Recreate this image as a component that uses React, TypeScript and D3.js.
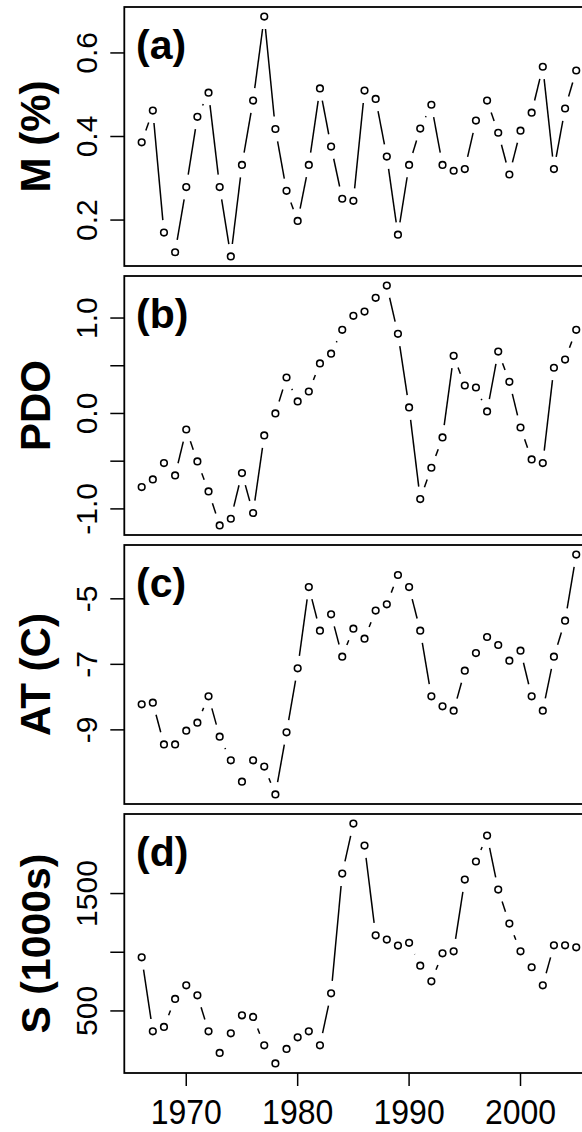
import React from "react";
import * as d3 from "d3";

// ---- data ----
const years: number[] = d3.range(1966, 2006);

const mValues: number[] = [
  0.386, 0.462, 0.170, 0.123, 0.279, 0.447, 0.505, 0.279, 0.113, 0.332,
  0.486, 0.687, 0.418, 0.270, 0.198, 0.332, 0.515, 0.376, 0.251, 0.246,
  0.510, 0.490, 0.352, 0.165, 0.332, 0.419, 0.476, 0.332, 0.318, 0.322,
  0.438, 0.486, 0.409, 0.309, 0.414, 0.457, 0.567, 0.322, 0.467, 0.558,
];

const pdoValues: number[] = [
  -0.771, -0.691, -0.520, -0.649, -0.168, -0.503, -0.817, -1.173, -1.103, -0.625,
  -1.043, -0.230, 0.0, 0.377, 0.126, 0.230, 0.524, 0.627, 0.876, 1.023,
  1.068, 1.212, 1.340, 0.835, 0.063, -0.897, -0.569, -0.251, 0.604, 0.293,
  0.272, 0.021, 0.649, 0.332, -0.147, -0.482, -0.520, 0.479, 0.565, 0.876,
];

const atValues: number[] = [
  -8.221, -8.170, -9.443, -9.443, -9.025, -8.780, -7.977, -9.208, -9.931, -10.58,
  -9.931, -10.12, -10.97, -9.076, -7.122, -4.640, -5.971, -5.473, -6.765, -5.910,
  -6.215, -5.360, -5.168, -4.273, -4.640, -5.971, -7.977, -8.282, -8.415, -7.193,
  -6.656, -6.166, -6.410, -6.888, -6.582, -7.977, -8.415, -6.765, -5.666, -3.650,
];

const sValues: number[] = [
  957, 326, 364, 602, 718, 633, 326, 142, 309, 463,
  449, 207, 53, 176, 275, 326, 207, 650, 1670, 2096,
  1909, 1144, 1108, 1057, 1080, 886, 752, 991, 1008, 1619,
  1773, 1994, 1534, 1244, 1008, 872, 718, 1059, 1059, 1042,
];

const xTicks: number[] = [1970, 1980, 1990, 2000];

const mTicks: number[] = [0.2, 0.4, 0.6];
const mTickLabels: string[] = ["0.2", "0.4", "0.6"];
const pdoTicks: number[] = [-1, -0.5, 0, 0.5, 1];
const pdoTickLabels: string[] = ["-1.0", "", "0.0", "", "1.0"];
const atTicks: number[] = [-9, -7, -5];
const atTickLabels: string[] = ["-9", "-7", "-5"];
const sTicks: number[] = [500, 1000, 1500];
const sTickLabels: string[] = ["500", "", "1500"];

const panelTitles: string[] = ["M (%)", "PDO", "AT (C)", "S (1000s)"];
const panelLetters: string[] = ["(a)", "(b)", "(c)", "(d)"];

// ---- layout ----
const W = 582;
const H = 1132;
const LEFT = 124.3;
const RIGHT = 593.6;
const TOP0 = 7;
const STEP = 269;
const PH = 259;
const GAP = 12.5;
const FONT = "'Liberation Sans', Arial, Helvetica, sans-serif";

function padExtent(vals: number[]): [number, number] {
  const [a, b] = d3.extent(vals) as [number, number];
  const p = (b - a) * 0.04;
  return [a - p, b + p];
}

function gappedSegments(pts: [number, number][], gap: number) {
  const segs: [number, number, number, number][] = [];
  for (let i = 1; i < pts.length; i++) {
    const [x0, y0] = pts[i - 1];
    const [x1, y1] = pts[i];
    const f = Math.hypot(x1 - x0, y1 - y0);
    if (f > 2 * gap) {
      const dx = (gap * (x1 - x0)) / f;
      const dy = (gap * (y1 - y0)) / f;
      segs.push([x0 + dx, y0 + dy, x1 - dx, y1 - dy]);
    }
  }
  return segs;
}

export default function App() {
  const x = d3.scaleLinear().domain(padExtent(years)).range([LEFT, RIGHT]);

  const panels = [
    { values: mValues, ticks: mTicks, labels: mTickLabels },
    { values: pdoValues, ticks: pdoTicks, labels: pdoTickLabels },
    { values: atValues, ticks: atTicks, labels: atTickLabels },
    { values: sValues, ticks: sTicks, labels: sTickLabels },
  ];

  const lastBottom = TOP0 + 3 * STEP + PH;

  return (
    <svg
      width={W}
      height={H}
      style={{ position: "absolute", left: 0, top: 0, display: "block", background: "#fff" }}
      fontFamily={FONT}
    >
      <rect x={0} y={0} width={W} height={H} fill="#fff" />
      {panels.map((p, i) => {
        const top = TOP0 + i * STEP;
        const bottom = top + PH;
        const y = d3.scaleLinear().domain(padExtent(p.values)).range([bottom, top]);
        const pts: [number, number][] = years.map((yr, k) => [x(yr), y(p.values[k])]);
        const segs = gappedSegments(pts, GAP);
        return (
          <g key={i}>
            {segs.map((s, k) => (
              <line key={k} x1={s[0]} y1={s[1]} x2={s[2]} y2={s[3]} stroke="#000" strokeWidth={1.5} />
            ))}
            {pts.map((pt, k) => (
              <circle key={k} cx={pt[0]} cy={pt[1]} r={3.3} fill="none" stroke="#000" strokeWidth={1.6} />
            ))}
            <rect x={LEFT} y={top} width={RIGHT - LEFT} height={PH} fill="none" stroke="#000" strokeWidth={1.8} />
            {p.ticks.map((t, k) => (
              <g key={k}>
                <line x1={LEFT - 14} x2={LEFT} y1={y(t)} y2={y(t)} stroke="#000" strokeWidth={1.5} />
                {p.labels[k] ? (
                  <text
                    transform={`translate(97,${y(t)}) rotate(-90)`}
                    textAnchor="middle"
                    fontSize={30}
                    fill="#000"
                  >
                    {p.labels[k]}
                  </text>
                ) : null}
              </g>
            ))}
            <text
              transform={`translate(50,${(top + bottom) / 2}) rotate(-90)`}
              textAnchor="middle"
              fontSize={i === 3 ? 41 : 42}
              fontWeight="bold"
              fill="#000"
            >
              {panelTitles[i]}
            </text>
            <text x={136} y={top + 52} fontSize={41} fontWeight="bold" fill="#000">
              {panelLetters[i]}
            </text>
          </g>
        );
      })}
      {xTicks.map((t, k) => (
        <g key={k}>
          <line x1={x(t)} x2={x(t)} y1={lastBottom} y2={lastBottom + 13} stroke="#000" strokeWidth={1.5} />
          <text
            transform={`translate(${x(t)},1124) scale(1,1.08)`}
            textAnchor="middle"
            fontSize={32}
            fill="#000"
          >
            {t}
          </text>
        </g>
      ))}
    </svg>
  );
}
